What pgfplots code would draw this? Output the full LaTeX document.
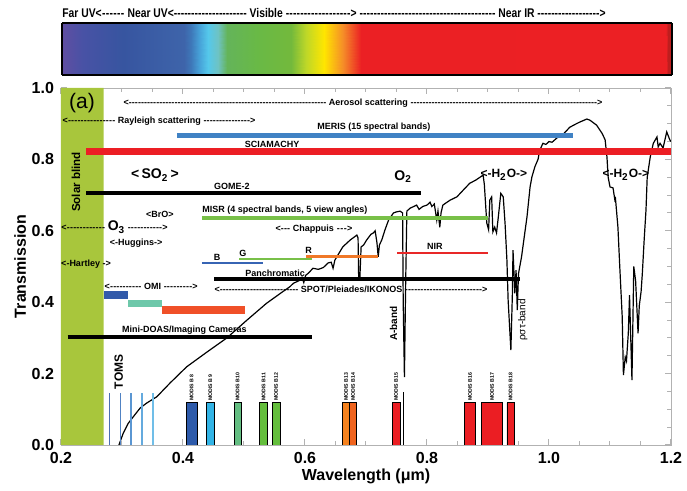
\documentclass[border=0pt]{standalone}
\usepackage{pgfplots}
\pgfplotsset{compat=1.18}
\usepackage{fontspec}
\setmainfont{Liberation Sans}
\newfontfamily\narrowfont{Liberation Sans}[FakeStretch=0.82]
\definecolor{solar}{RGB}{168,198,60}
\definecolor{meris}{RGB}{64,130,196}
\definecolor{scia}{RGB}{236,30,36}
\definecolor{misr}{RGB}{120,192,72}
\definecolor{bblue}{RGB}{55,100,180}
\definecolor{rorange}{RGB}{240,120,40}
\definecolor{nirred}{RGB}{232,40,40}
\definecolor{omiblue}{RGB}{50,90,170}
\definecolor{omiteal}{RGB}{110,200,170}
\definecolor{omired}{RGB}{240,80,40}
\definecolor{tA}{RGB}{75,110,180}
\definecolor{tB}{RGB}{80,130,195}
\definecolor{tC}{RGB}{90,150,210}
\definecolor{tD}{RGB}{100,170,222}
\definecolor{tE}{RGB}{112,190,232}
\definecolor{m8}{RGB}{45,90,170}
\definecolor{m9}{RGB}{50,180,230}
\definecolor{m10}{RGB}{100,190,130}
\definecolor{m11}{RGB}{100,190,60}
\definecolor{m13}{RGB}{245,130,30}
\definecolor{m14}{RGB}{240,100,30}
\definecolor{mred}{RGB}{235,30,35}
\newcommand\sm{\bfseries\fontsize{4.5}{5}\selectfont}
\newcommand\md{\bfseries\fontsize{2.6}{3}\selectfont}
\newcommand\dl[1]{\hbox to #1{\xleaders\hbox{-}\hfill}}
\begin{document}
\begin{tikzpicture}
\useasboundingbox (-30.5pt,-23pt) rectangle (313pt,222.5pt);
\begin{axis}[
  at={(0,0)}, anchor=south west,
  scale only axis, width=305pt, height=178.5pt,
  xmin=0.2, xmax=1.2, ymin=0, ymax=1,
  xtick={0.2,0.4,0.6,0.8,1.0,1.2},
  ytick={0,0.2,0.4,0.6,0.8,1.0},
  minor x tick num=3, minor y tick num=3,
  tick align=inside, xtick pos=both, ytick pos=both,
  xticklabel pos=bottom, yticklabel pos=left,
  major tick length=3pt, minor tick length=2pt,
  axis line style={gray!60}, tick style={gray!60, line width=0.5pt},
  /pgf/number format/assume math mode=true,
  xticklabel={\pgfmathprintnumber[fixed,fixed zerofill,precision=1]{\tick}},
  yticklabel={\pgfmathprintnumber[fixed,fixed zerofill,precision=1]{\tick}},
  ticklabel style={font=\bfseries\fontsize{8}{9}\selectfont},
  xlabel={Wavelength (μm)}, ylabel={Transmission},
  label style={font=\bfseries\fontsize{8}{9}\selectfont},
  xlabel style={at={(axis description cs:0.5,-0.087)}, anchor=center},
  ylabel style={at={(axis description cs:-0.067,0.5)}, anchor=center},
]
% solar blind band
\addplot[fill=solar, draw=none] coordinates {(0.2,0) (0.2,1) (0.27,1) (0.27,0)} \closedcycle;
% transmission curve
\addplot[black, line width=0.6pt] coordinates {
(0.295,0.000) (0.302,0.033) (0.310,0.060) (0.318,0.078) (0.330,0.104) (0.341,0.118)
(0.357,0.135) (0.379,0.174) (0.406,0.219) (0.439,0.260) (0.472,0.300) (0.505,0.350)
(0.537,0.397) (0.564,0.430) (0.575,0.443) (0.581,0.453) (0.590,0.460) (0.595,0.470)
(0.598,0.455) (0.601,0.475) (0.606,0.482) (0.613,0.495) (0.622,0.492) (0.630,0.497)
(0.638,0.510) (0.643,0.512) (0.646,0.495) (0.649,0.518) (0.655,0.535) (0.662,0.555)
(0.674,0.574) (0.685,0.588) (0.687,0.580) (0.688,0.465) (0.690,0.470) (0.692,0.555)
(0.696,0.560) (0.701,0.574) (0.708,0.590) (0.712,0.594) (0.715,0.600) (0.718,0.566)
(0.720,0.527) (0.722,0.560) (0.726,0.575) (0.731,0.602) (0.737,0.630) (0.745,0.650)
(0.750,0.653) (0.756,0.655) (0.760,0.650) (0.761,0.400) (0.763,0.190) (0.765,0.450)
(0.767,0.655) (0.772,0.663) (0.783,0.672) (0.787,0.660) (0.793,0.668) (0.800,0.672)
(0.805,0.680) (0.808,0.668) (0.812,0.675) (0.816,0.630) (0.818,0.655) (0.821,0.610)
(0.823,0.650) (0.826,0.672) (0.838,0.686) (0.849,0.695) (0.860,0.715) (0.870,0.733)
(0.880,0.742) (0.892,0.756) (0.894,0.730) (0.898,0.622) (0.901,0.603) (0.903,0.686)
(0.906,0.695) (0.908,0.597) (0.911,0.610) (0.914,0.594) (0.917,0.640) (0.921,0.705)
(0.925,0.695) (0.928,0.620) (0.931,0.518) (0.933,0.406) (0.9375,0.266) (0.940,0.425)
(0.941,0.546) (0.944,0.425) (0.946,0.490) (0.948,0.378) (0.950,0.480) (0.955,0.527)
(0.958,0.565) (0.964,0.640) (0.969,0.723) (0.972,0.751) (0.977,0.780) (0.982,0.800)
(0.985,0.826) (0.990,0.845) (0.995,0.842) (1.000,0.850) (1.005,0.848) (1.013,0.860)
(1.023,0.870) (1.034,0.890) (1.045,0.900) (1.051,0.905) (1.062,0.913) (1.067,0.910)
(1.078,0.896) (1.087,0.873) (1.092,0.855) (1.095,0.807) (1.097,0.750) (1.100,0.723)
(1.105,0.720) (1.108,0.686) (1.109,0.690) (1.113,0.610) (1.116,0.500) (1.120,0.360)
(1.122,0.196) (1.125,0.246) (1.127,0.235) (1.130,0.313) (1.132,0.420) (1.134,0.300)
(1.136,0.182) (1.139,0.500) (1.142,0.460) (1.146,0.313) (1.148,0.390) (1.151,0.430)
(1.153,0.480) (1.156,0.574) (1.159,0.658) (1.161,0.750) (1.166,0.807) (1.171,0.845)
(1.177,0.863) (1.179,0.835) (1.182,0.845) (1.187,0.832) (1.193,0.877) (1.198,0.855)
(1.200,0.850)};
\addplot[black, line width=0.6pt] coordinates {(0.762,0) (0.762,0.148)};
% instrument bars
\addplot[meris, line width=2.5pt] coordinates {(0.39,0.866) (1.039,0.866)};
\addplot[scia, line width=3.6pt] coordinates {(0.241,0.821) (1.2,0.821)};
\addplot[black, line width=2pt] coordinates {(0.241,0.706) (0.790,0.706)};
\addplot[misr, line width=1.7pt] coordinates {(0.431,0.636) (0.900,0.636)};
\addplot[bblue, line width=1.4pt] coordinates {(0.431,0.510) (0.531,0.510)};
\addplot[misr, line width=1.4pt] coordinates {(0.492,0.521) (0.611,0.521)};
\addplot[rorange, line width=1.4pt] coordinates {(0.602,0.529) (0.720,0.529)};
\addplot[nirred, line width=1.4pt] coordinates {(0.751,0.538) (0.900,0.538)};
\addplot[black, line width=1.7pt] coordinates {(0.451,0.465) (0.952,0.465)};
\addplot[omiblue, line width=3.6pt] coordinates {(0.271,0.420) (0.310,0.420)};
\addplot[omiteal, line width=3.6pt] coordinates {(0.310,0.397) (0.366,0.397)};
\addplot[omired, line width=3.6pt] coordinates {(0.366,0.378) (0.502,0.378)};
\addplot[black, line width=2pt] coordinates {(0.211,0.302) (0.611,0.302)};
% TOMS lines
\addplot[tA, line width=0.7pt] coordinates {(0.280,0) (0.280,0.146)};
\addplot[tB, line width=0.7pt] coordinates {(0.298,0) (0.298,0.146)};
\addplot[tC, line width=0.7pt] coordinates {(0.315,0) (0.315,0.146)};
\addplot[tD, line width=0.7pt] coordinates {(0.333,0) (0.333,0.146)};
\addplot[tE, line width=0.7pt] coordinates {(0.351,0) (0.351,0.146)};
% MODIS bands
\addplot[fill=m8, draw=black, line width=0.4pt] coordinates {(0.405,0) (0.405,0.118) (0.423,0.118) (0.423,0)} \closedcycle;
\addplot[fill=m9, draw=black, line width=0.4pt] coordinates {(0.439,0) (0.439,0.118) (0.451,0.118) (0.451,0)} \closedcycle;
\addplot[fill=m10, draw=black, line width=0.4pt] coordinates {(0.484,0) (0.484,0.118) (0.495,0.118) (0.495,0)} \closedcycle;
\addplot[fill=m11, draw=black, line width=0.4pt] coordinates {(0.526,0) (0.526,0.118) (0.538,0.118) (0.538,0)} \closedcycle;
\addplot[fill=m11, draw=black, line width=0.4pt] coordinates {(0.546,0) (0.546,0.118) (0.559,0.118) (0.559,0)} \closedcycle;
\addplot[fill=m13, draw=black, line width=0.4pt] coordinates {(0.662,0) (0.662,0.118) (0.673,0.118) (0.673,0)} \closedcycle;
\addplot[fill=m14, draw=black, line width=0.4pt] coordinates {(0.673,0) (0.673,0.118) (0.685,0.118) (0.685,0)} \closedcycle;
\addplot[fill=mred, draw=black, line width=0.4pt] coordinates {(0.743,0) (0.743,0.118) (0.756,0.118) (0.756,0)} \closedcycle;
\addplot[fill=mred, draw=black, line width=0.4pt] coordinates {(0.861,0) (0.861,0.118) (0.880,0.118) (0.880,0)} \closedcycle;
\addplot[fill=mred, draw=black, line width=0.4pt] coordinates {(0.890,0) (0.890,0.118) (0.923,0.118) (0.923,0)} \closedcycle;
\addplot[fill=mred, draw=black, line width=0.4pt] coordinates {(0.931,0) (0.931,0.118) (0.943,0.118) (0.943,0)} \closedcycle;
% MODIS labels
\foreach \xx/\tt in {0.414/{MODIS B 8},0.445/{MODIS B 9},0.4895/{MODIS B10},0.532/{MODIS B11},0.5525/{MODIS B12},0.6675/{MODIS B13},0.679/{MODIS B14},0.7495/{MODIS B15},0.8705/{MODIS B16},0.9065/{MODIS B17},0.937/{MODIS B18}}{
  \edef\tmp{\noexpand\node[rotate=90, anchor=west, inner sep=0.3pt, font=\noexpand\md] at (axis cs:\xx,0.121) {\tt};}\tmp
}
% text annotations
\node[font=\fontsize{10.5}{12}\selectfont] at (axis cs:0.2344,0.957) {(a)};
\node[rotate=90, font=\bfseries\fontsize{5.8}{7}\selectfont] at (axis cs:0.2246,0.737) {Solar blind};
\node[anchor=west, inner sep=0, font=\sm] at (axis cs:0.302,0.958) {\hbox to 239.4pt{<\dl{98.8pt}\ Aerosol scattering\ \xleaders\hbox{-}\hfill>}};
\node[anchor=west, inner sep=0, font=\sm] at (axis cs:0.202,0.908) {\hbox to 96.4pt{<\dl{23.8pt}\ Rayleigh scattering\ \xleaders\hbox{-}\hfill>}};
\node[font=\sm] at (axis cs:0.713,0.889) {MERIS (15 spectral bands)};
\node[font=\sm] at (axis cs:0.546,0.843) {SCIAMACHY};
\node[font=\bfseries\fontsize{7}{8}\selectfont] at (axis cs:0.354,0.756) {<\,SO\textsubscript{2}\,>};
\node[font=\sm] at (axis cs:0.480,0.725) {GOME-2};
\node[font=\bfseries\fontsize{7}{8}\selectfont] at (axis cs:0.761,0.751) {O\textsubscript{2}};
\node[font=\bfseries\fontsize{6}{7}\selectfont] at (axis cs:0.926,0.756) {<-H\textsubscript{2}O->};
\node[font=\bfseries\fontsize{6}{7}\selectfont] at (axis cs:1.126,0.756) {<-H\textsubscript{2}O->};
\node[font=\sm] at (axis cs:0.362,0.647) {<BrO>};
\node[anchor=west, inner sep=0, font=\sm] at (axis cs:0.431,0.657) {MISR (4 spectral bands, 5 view angles)};
\node[anchor=west, inner sep=0, font=\sm] at (axis cs:0.200,0.610) {\hbox to 53.1pt{<\dl{19.3pt}\ {\fontsize{7}{8}\selectfont O\textsubscript{3}}\ \xleaders\hbox{-}\hfill>}};
\node[anchor=west, inner sep=0, font=\sm] at (axis cs:0.551,0.605) {\hbox to 38.5pt{<\dl{4.8pt}\ Chappuis\ \xleaders\hbox{-}\hfill>}};
\node[font=\sm] at (axis cs:0.323,0.566) {<-Huggins->};
\node[font=\sm] at (axis cs:0.241,0.507) {<-Hartley ->};
\node[font=\sm] at (axis cs:0.456,0.526) {B};
\node[font=\sm] at (axis cs:0.498,0.537) {G};
\node[font=\sm] at (axis cs:0.606,0.545) {R};
\node[font=\sm] at (axis cs:0.813,0.556) {NIR};
\node[font=\sm] at (axis cs:0.551,0.480) {Panchromatic};
\node[anchor=west, inner sep=0, font=\sm] at (axis cs:0.451,0.437) {\hbox to 136.5pt{<\dl{39.3pt}\ SPOT/Pleiades/IKONOS\ \xleaders\hbox{-}\hfill>}};
\node[anchor=west, inner sep=0, font=\sm] at (axis cs:0.271,0.445) {\hbox to 46.5pt{<\dl{15.8pt}\ OMI\ \xleaders\hbox{-}\hfill>}};
\node[font=\sm] at (axis cs:0.4024,0.321) {Mini-DOAS/Imaging Cameras};
\node[rotate=90, font=\bfseries\fontsize{6}{7}\selectfont] at (axis cs:0.2946,0.205) {TOMS};
\node[rotate=90, font=\bfseries\fontsize{5}{6}\selectfont] at (axis cs:0.745,0.340) {A-band};
\node[rotate=90, font=\fontsize{5}{6}\selectfont] at (axis cs:0.957,0.350) {ρστ-band};
\end{axis}
% spectrum colour bar
\begin{axis}[
  at={(0.5pt,185pt)}, anchor=south west,
  scale only axis, width=305pt, height=26pt,
  view={0}{90},
  xmin=0.2, xmax=1.2, ymin=0, ymax=1,
  xtick=\empty, ytick=\empty, ztick=\empty,
  axis line style={black, line width=0.7pt},
  colormap={spec}{rgb255(0pt)=(96,78,162); rgb255(35pt)=(72,82,165); rgb255(100pt)=(55,85,160);
    rgb255(200pt)=(62,100,170); rgb255(212pt)=(62,120,185); rgb255(225pt)=(70,160,215);
    rgb255(240pt)=(85,200,235); rgb255(255pt)=(110,195,195); rgb255(270pt)=(100,180,90);
    rgb255(320pt)=(105,185,70); rgb255(375pt)=(115,185,60); rgb255(400pt)=(190,215,40);
    rgb255(430pt)=(255,230,0); rgb255(460pt)=(245,140,40); rgb255(490pt)=(235,32,36);
    rgb255(990pt)=(236,32,36); rgb255(993pt)=(190,30,30); rgb255(1000pt)=(190,30,30)},
  point meta min=0.2, point meta max=1.2,
]
\addplot3[surf, shader=interp, mesh/rows=2, point meta=x] coordinates {
(0.2,0,0) (0.235,0,0) (0.3,0,0) (0.4,0,0) (0.412,0,0) (0.425,0,0) (0.44,0,0) (0.455,0,0) (0.47,0,0)
(0.52,0,0) (0.575,0,0) (0.6,0,0) (0.63,0,0) (0.66,0,0) (0.69,0,0) (1.19,0,0) (1.193,0,0) (1.2,0,0)

(0.2,1,0) (0.235,1,0) (0.3,1,0) (0.4,1,0) (0.412,1,0) (0.425,1,0) (0.44,1,0) (0.455,1,0) (0.47,1,0)
(0.52,1,0) (0.575,1,0) (0.6,1,0) (0.63,1,0) (0.66,1,0) (0.69,1,0) (1.19,1,0) (1.193,1,0) (1.2,1,0)
};
\end{axis}
\node[anchor=base west, inner sep=0, font=\narrowfont\bfseries\fontsize{6.3}{7}\selectfont] at (0.5pt,213.8pt)
  {Far UV<\dl{11.5pt}\ Near UV<\dl{36.5pt}\ Visible\ \dl{32.5pt}>\ \dl{68pt}\ Near IR\ \dl{31pt}>};
\end{tikzpicture}
\end{document}
